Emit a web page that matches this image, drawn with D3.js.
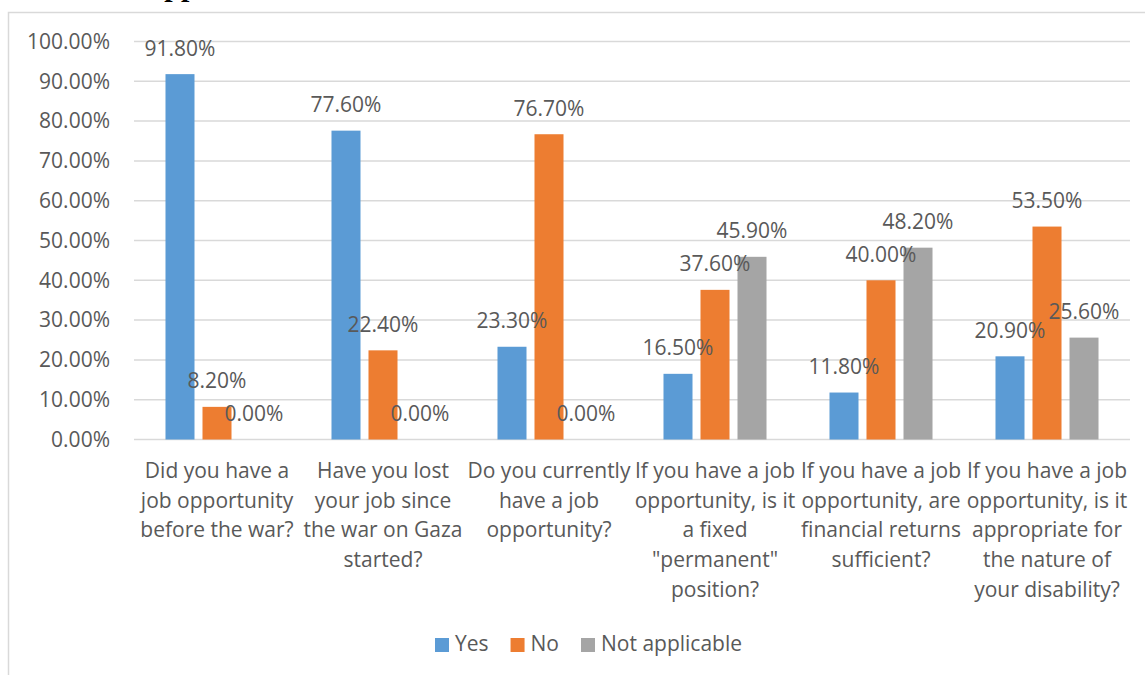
<!DOCTYPE html>
<html>
<head>
<meta charset="utf-8">
<script src="https://cdn.jsdelivr.net/npm/d3@7"></script>
<style>
  html, body { margin: 0; padding: 0; background: #fff; }
  svg { display: block; }
  text { font-family: "Open Sans", "Noto Sans", sans-serif; fill: #595959; }
</style>
</head>
<body>
<svg id="chart" width="1145" height="675"></svg>
<script>
// Survey questions (x-axis categories), one entry per line of the wrapped label
const categories = [
  ["Did you have a", "job opportunity", "before the war?"],
  ["Have you lost", "your job since", "the war on Gaza", "started?"],
  ["Do you currently", "have a job", "opportunity?"],
  ["If you have a job", "opportunity, is it", "a fixed", "\"permanent\"", "position?"],
  ["If you have a job", "opportunity, are", "financial returns", "sufficient?"],
  ["If you have a job", "opportunity, is it", "appropriate for", "the nature of", "your disability?"]
];

const seriesNames = ["Yes", "No", "Not applicable"];
const seriesColors = ["#5b9bd5", "#ed7d31", "#a5a5a5"];

// Share of respondents per answer (percent)
const yesValues = [91.8, 77.6, 23.3, 16.5, 11.8, 20.9];
const noValues = [8.2, 22.4, 76.7, 37.6, 40.0, 53.5];
const naValues = [0.0, 0.0, 0.0, 45.9, 48.2, 25.6];

const yTicks = [0, 10, 20, 30, 40, 50, 60, 70, 80, 90, 100];

const series = [yesValues, noValues, naValues];

const FONT = "21px";

const svg = d3.select("#chart");

// Chart frame
svg.append("rect")
  .attr("x", 8.5).attr("y", 12.5)
  .attr("width", 1200).attr("height", 700)
  .attr("fill", "none")
  .attr("stroke", "#d9d9d9")
  .attr("stroke-width", 1.5);

// Heading above the frame (runs off the top of the page)
svg.append("text")
  .attr("x", 141).attr("y", -4)
  .style("font-family", "'Liberation Serif', serif")
  .style("font-weight", "bold")
  .style("font-size", "30px")
  .style("fill", "#000")
  .text("Opportunities");

const x0 = d3.scaleBand()
  .domain(d3.range(categories.length))
  .range([134, 1130])
  .paddingInner(0)
  .paddingOuter(0);

const x1 = d3.scaleBand()
  .domain(d3.range(series.length))
  .range([0, x0.bandwidth()])
  .paddingInner(0.216)
  .paddingOuter(0.851);

const y = d3.scaleLinear()
  .domain([0, 100])
  .range([439.5, 41.5]);

const fmt = v => d3.format(".2f")(v) + "%";

// Horizontal gridlines
svg.append("g")
  .selectAll("line")
  .data(yTicks)
  .join("line")
  .attr("x1", 134).attr("x2", 1130)
  .attr("y1", d => y(d)).attr("y2", d => y(d))
  .attr("stroke", "#d9d9d9")
  .attr("stroke-width", 1.5);

// Y-axis labels
const yAxis = d3.axisLeft(y)
  .tickValues(yTicks)
  .tickSize(0)
  .tickPadding(0)
  .tickFormat(fmt);

const yg = svg.append("g")
  .attr("transform", "translate(110,0)")
  .call(yAxis);
yg.select(".domain").remove();
yg.selectAll("text")
  .attr("fill", "#595959")
  .style("font-size", FONT)
  .style("font-family", "'Open Sans', sans-serif");

// Bars
const groups = svg.append("g")
  .selectAll("g")
  .data(categories.map((c, i) => i))
  .join("g")
  .attr("transform", i => `translate(${x0(i)},0)`);

groups.selectAll("rect")
  .data(i => series.map((s, k) => ({ k, v: s[i] })))
  .join("rect")
  .attr("x", d => x1(d.k))
  .attr("width", x1.bandwidth())
  .attr("y", d => y(d.v))
  .attr("height", d => y(0) - y(d.v))
  .attr("fill", d => seriesColors[d.k]);

// Value labels
groups.selectAll("text.val")
  .data(i => series.map((s, k) => ({ k, v: s[i] })))
  .join("text")
  .attr("class", "val")
  .attr("x", d => x1(d.k) + x1.bandwidth() / 2)
  .attr("y", d => y(d.v) - 18.5)
  .attr("text-anchor", "middle")
  .style("font-size", FONT)
  .text(d => fmt(d.v));

// Category labels
const catLabels = svg.append("g")
  .selectAll("text")
  .data(categories)
  .join("text")
  .attr("text-anchor", "middle")
  .style("font-size", FONT)
  .attr("transform", (d, i) => `translate(${x0(i) + x0.bandwidth() / 2},478)`);

catLabels.selectAll("tspan")
  .data(d => d)
  .join("tspan")
  .attr("x", 0)
  .attr("y", (d, j) => j * 29.7)
  .text(d => d);

// Legend
const legend = svg.append("g").attr("transform", "translate(435,0)");
let lx = 0;
seriesNames.forEach((name, k) => {
  legend.append("rect")
    .attr("x", lx).attr("y", 638)
    .attr("width", 14).attr("height", 14)
    .attr("fill", seriesColors[k]);
  const t = legend.append("text")
    .attr("x", lx + 20).attr("y", 651)
    .style("font-size", FONT)
    .text(name);
  lx += 20 + t.node().getComputedTextLength() + 22;
});
</script>
</body>
</html>
